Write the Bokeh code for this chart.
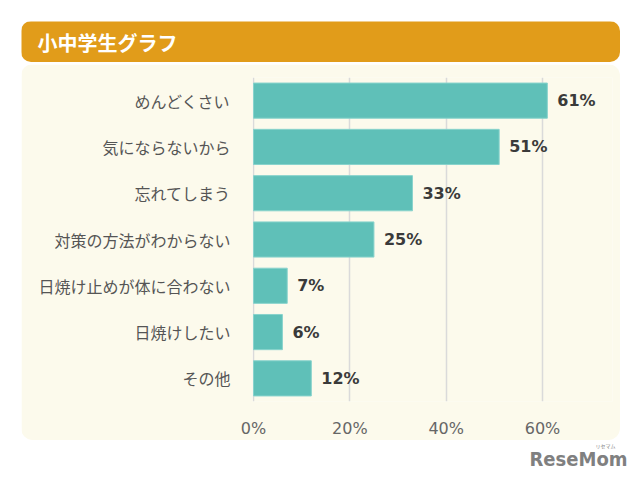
from bokeh.plotting import figure
from bokeh.layouts import column
from bokeh.models import (Label, FactorRange, FixedTicker,
                          PrintfTickFormatter, ColumnDataSource)
from bokeh.embed import file_html
from bokeh.resources import INLINE
from bokeh.core.properties import value

# データ
categories = ["めんどくさい", "気にならないから", "忘れてしまう", "対策の方法がわからない",
              "日焼け止めが体に合わない", "日焼けしたい", "その他"]
values = [61, 51, 33, 25, 7, 6, 12]
ticks = [0, 20, 40, 60]
title_text = "小中学生グラフ"

JP = "Noto Sans CJK JP"
NUM = "DejaVu Sans"
PX = 4.817  # 1% あたりのピクセル

source = ColumnDataSource(data=dict(
    cat=categories,
    val=values,
    label=[f"{v}%" for v in values],
))


def blank(w, h, fill, **kw):
    f = figure(width=w, height=h, x_range=(0, w), y_range=(0, h),
               x_axis_type=None, y_axis_type=None,
               output_backend="svg", toolbar_location=None,
               min_border=0, frame_align=False, **kw)
    f.grid.grid_line_color = None
    f.outline_line_color = None
    f.border_fill_color = fill
    f.background_fill_color = fill
    return f


# タイトル帯
banner = blank(599, 41, "#E19C1A", margin=(21, 0, 0, 21),
               styles={"border-radius": "10px", "overflow": "hidden"})
banner.add_layout(Label(x=16, y=20, text=title_text, text_baseline="middle",
                        text_font=JP, text_font_style="bold",
                        text_font_size="20px", text_color="white"))

# グラフ本体
p = figure(width=599, height=376,
           y_range=FactorRange(*reversed(categories)),
           x_range=(-1 / PX, 359 / PX),
           output_backend="svg", toolbar_location=None,
           min_border_left=231, min_border_right=8,
           min_border_top=13, min_border_bottom=39,
           margin=(2, 0, 0, 21), frame_align=False,
           styles={"border-radius": "12px", "overflow": "hidden"})
p.border_fill_color = "#FCFAEC"
p.background_fill_color = "#FCFAEC"
p.outline_line_color = None

p.hbar(y="cat", right="val", left=0, height=0.76, source=source,
       fill_color="#5FC0B8", line_color="#88D3CC", line_width=1)
p.text(x="val", y="cat", text="label", source=source, x_offset=10,
       text_baseline="middle", text_align="left",
       text_font=value(NUM), text_font_style="bold",
       text_font_size="16px", text_color="#3A3A3A")

p.ygrid.grid_line_color = None
p.xgrid.ticker = FixedTicker(ticks=ticks)
p.xgrid.grid_line_color = "#DADADA"
p.xgrid.grid_line_width = 1.5

p.xaxis.ticker = FixedTicker(ticks=ticks)
p.xaxis.formatter = PrintfTickFormatter(format="%d%%")
p.xaxis.axis_line_color = None
p.xaxis.major_tick_line_color = None
p.xaxis.minor_tick_line_color = None
p.xaxis.major_label_standoff = 11
p.xaxis.major_label_text_font = NUM
p.xaxis.major_label_text_font_size = "16px"
p.xaxis.major_label_text_color = "#666666"

p.yaxis.axis_line_color = None
p.yaxis.major_tick_line_color = None
p.yaxis.minor_tick_line_color = None
p.yaxis.major_label_standoff = 16
p.yaxis.major_label_text_font = JP
p.yaxis.major_label_text_font_size = "16px"
p.yaxis.major_label_text_color = "#555555"

# ロゴ
logo = blank(610, 41, "white", margin=(0, 0, 0, 21))
logo.add_layout(Label(x=606, y=23, text="ReseMom", text_align="right",
                      text_baseline="middle",
                      text_font="DejaVu Sans Condensed", text_font_style="bold",
                      text_font_size="20px", text_color="#808080"))
logo.add_layout(Label(x=584, y=36, text="リセマム", text_align="center",
                      text_baseline="middle", text_font=JP,
                      text_font_size="5px", text_color="#808080"))

page = column(banner, p, logo)
open("out.html", "w").write(file_html(page, INLINE))
